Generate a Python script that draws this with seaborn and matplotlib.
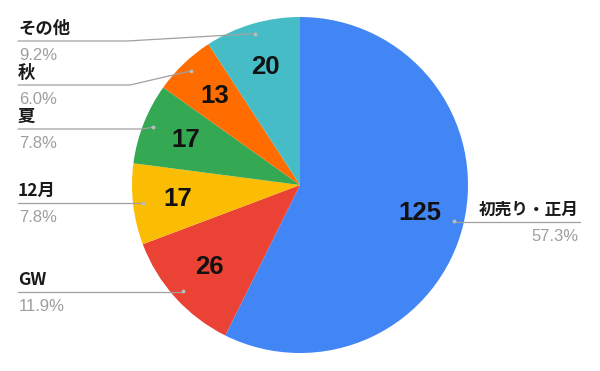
import matplotlib
matplotlib.use("Agg")
import matplotlib.pyplot as plt
import seaborn as sns
import numpy as np

categories = ["初売り・正月", "GW", "12月", "夏", "秋", "その他"]
values = [125, 26, 17, 17, 13, 20]
colors = ["#4285F4", "#EA4335", "#FBBC04", "#34A853", "#FF6D01", "#46BDC6"]

sns.set_theme(style="white")
plt.rcParams['font.family'] = ['Noto Sans CJK JP', 'DejaVu Sans']

W, H = 600, 371
fig = plt.figure(figsize=(6, 3.71), dpi=100)
ax = fig.add_axes([0, 0, 1, 1])
cx, cy, R = 300, H - 185, 168
total = sum(values)

wedges, texts, autotexts = ax.pie(
    values, colors=colors, startangle=90, counterclock=False,
    radius=R, center=(cx, cy),
    autopct=lambda p: f"{int(round(p * total / 100))}",
    pctdistance=0.73,
    wedgeprops=dict(linewidth=0),
    textprops=dict(fontsize=18.5, fontweight='bold', color='#111111',
                   family=['Liberation Sans', 'DejaVu Sans']))
ax.set_xlim(0, W)
ax.set_ylim(0, H)
ax.set_aspect('equal')
ax.axis('off')

gray = '#9e9e9e'
line_col = '#a0a0a0'
# layout for labels (image-pixel y of the leader line, bend x)
layout = {
    "初売り・正月": ("right", 222, None),
    "GW": ("left", 292, None),
    "12月": ("left", 203, None),
    "夏": ("left", 129, 142),
    "秋": ("left", 85, 130),
    "その他": ("left", 41, 127),
}

for w, cat, v in zip(wedges, categories, values):
    ang = np.deg2rad((w.theta1 + w.theta2) / 2)
    dx = cx + 0.94 * R * np.cos(ang)
    dy = cy + 0.94 * R * np.sin(ang)
    side, ly_img, bend = layout[cat]
    ly = H - ly_img
    pct = f"{v / total * 100:.1f}%"
    ax.plot([dx], [dy], marker='o', ms=1.8, color='#bbbbbb', zorder=5)
    if side == "left":
        if bend is None:
            xs, ys = [18, dx], [ly, ly]
        else:
            xs, ys = [18, bend, dx], [ly, ly, dy]
        ax.plot(xs, ys, color=line_col, lw=0.9, zorder=4)
        ax.text(18, ly + 3, cat, ha='left', va='bottom', fontsize=12.5,
                fontweight='bold', color='#1a1a1a')
        ax.text(19, ly - 7, pct, ha='left', va='top', fontsize=12,
                color=gray, family=['Liberation Sans', 'DejaVu Sans'])
    else:
        ax.plot([dx, 580], [ly, ly], color=line_col, lw=0.9, zorder=4)
        ax.text(579, ly + 3, cat, ha='right', va='bottom', fontsize=12,
                fontweight='bold', color='#1a1a1a')
        ax.text(579, ly - 7, pct, ha='right', va='top', fontsize=12,
                color=gray, family=['Liberation Sans', 'DejaVu Sans'])

fig.savefig("out.png", dpi=100)
